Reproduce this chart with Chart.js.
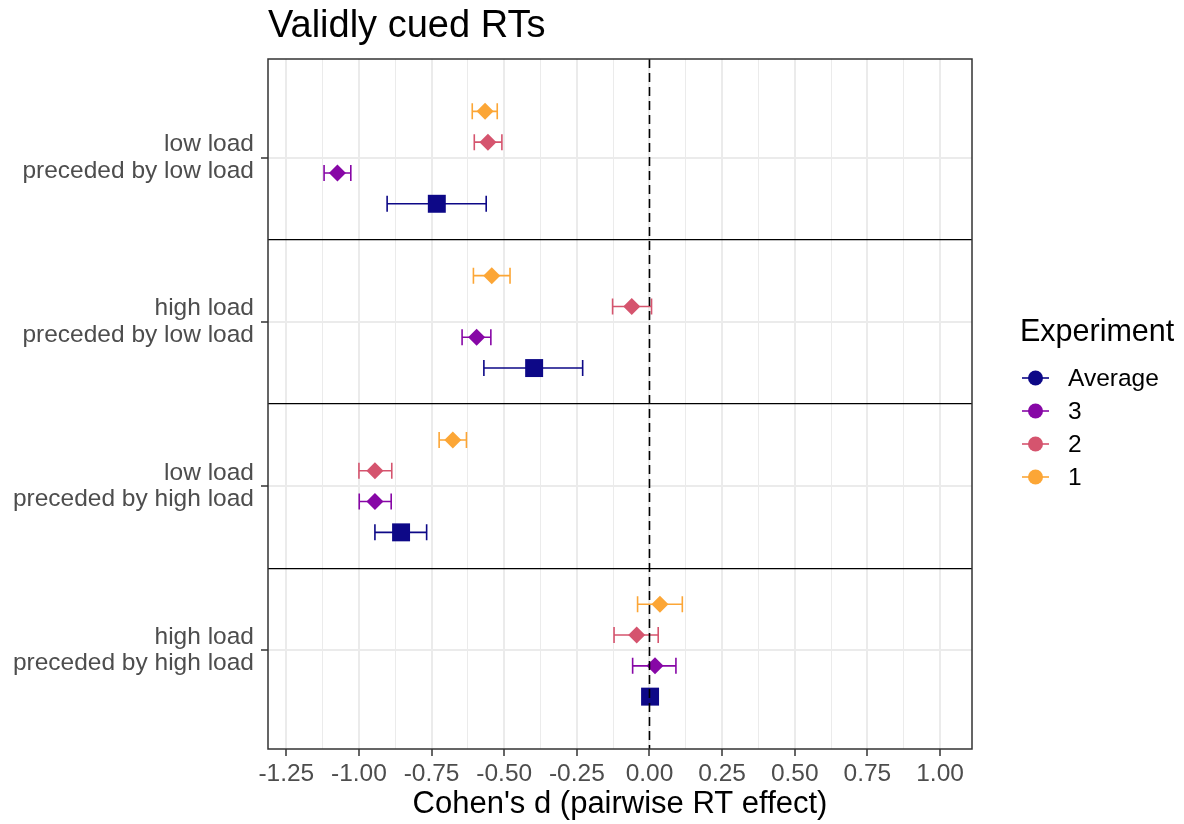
<!DOCTYPE html>
<html>
<head>
<meta charset="utf-8">
<script src="https://cdn.jsdelivr.net/npm/chart.js@4.4.1/dist/chart.umd.min.js"></script>
<style>
  body { margin: 0; background: #fff; }
  canvas { display: block; }
</style>
</head>
<body>
<canvas id="chart" width="1184" height="824"></canvas>
<script>
// categories (top to bottom) and tick labels
const categories = [
  ['low load', 'preceded by low load'],
  ['high load', 'preceded by low load'],
  ['low load', 'preceded by high load'],
  ['high load', 'preceded by high load']
];
const xTickValues = [-1.25, -1.0, -0.75, -0.5, -0.25, 0, 0.25, 0.5, 0.75, 1.0];
const xTickLabels = ['-1.25', '-1.00', '-0.75', '-0.50', '-0.25', '0.00', '0.25', '0.50', '0.75', '1.00'];

// Cohen's d with CI, per experiment, in category order
const avgD  = [-0.732, -0.397, -0.855, 0.002];
const avgLo = [-0.903, -0.570, -0.945, 0.002];
const avgHi = [-0.562, -0.230, -0.767, 0.002];

const exp3D  = [-1.074, -0.595, -0.945, 0.019];
const exp3Lo = [-1.120, -0.645, -0.999, -0.058];
const exp3Hi = [-1.028, -0.546, -0.889, 0.091];

const exp2D  = [-0.556, -0.061, -0.945, -0.044];
const exp2Lo = [-0.603, -0.127, -1.000, -0.122];
const exp2Hi = [-0.508, 0.007, -0.887, 0.030];

const exp1D  = [-0.566, -0.543, -0.677, 0.036];
const exp1Lo = [-0.610, -0.606, -0.724, -0.041];
const exp1Hi = [-0.524, -0.480, -0.630, 0.113];

const FONT = '"Liberation Sans", Arial, sans-serif';

// dodge offsets within a category (Average bottom, 1 top)
const dodge = [0.28125, 0.09375, -0.09375, -0.28125];

function makeSet(label, d, lo, hi, color, shape, radius, k) {
  return {
    label: label,
    data: d.map((v, i) => ({ x: v, y: i + 1 + dodge[k] })),
    errLo: lo,
    errHi: hi,
    backgroundColor: color,
    borderColor: color,
    pointStyle: shape,
    pointRadius: radius,
    pointHoverRadius: radius,
    pointBorderWidth: 0,
    showLine: false
  };
}

const datasets = [
  makeSet('Average', avgD, avgLo, avgHi, '#0D0887', 'rect', 12.7, 0),
  makeSet('3', exp3D, exp3Lo, exp3Hi, '#8707A6', 'rectRot', 8.5, 1),
  makeSet('2', exp2D, exp2Lo, exp2Hi, '#D5546E', 'rectRot', 8.5, 2),
  makeSet('1', exp1D, exp1Lo, exp1Hi, '#FCA636', 'rectRot', 8.5, 3)
];

const xMinor = xTickValues.slice(1).map((v, i) => (v + xTickValues[i]) / 2);
const yTickPos = [1, 1.5, 2, 2.5, 3, 3.5, 4];

const errorBars = {
  id: 'errorBars',
  beforeDatasetsDraw(chart) {
    const ctx = chart.ctx;
    const xs = chart.scales.x;
    chart.data.datasets.forEach((ds, di) => {
      const meta = chart.getDatasetMeta(di);
      ctx.save();
      ctx.strokeStyle = ds.borderColor;
      ctx.lineWidth = 1.6;
      meta.data.forEach((pt, i) => {
        const x1 = xs.getPixelForValue(ds.errLo[i]);
        const x2 = xs.getPixelForValue(ds.errHi[i]);
        const y = pt.y;
        ctx.beginPath();
        ctx.moveTo(x1, y); ctx.lineTo(x2, y);
        ctx.moveTo(x1, y - 8); ctx.lineTo(x1, y + 8);
        ctx.moveTo(x2, y - 8); ctx.lineTo(x2, y + 8);
        ctx.stroke();
      });
      ctx.restore();
    });
  },
  afterDatasetsDraw(chart) {
    const ctx = chart.ctx;
    const a = chart.chartArea;
    const x0 = chart.scales.x.getPixelForValue(0);
    ctx.save();
    ctx.strokeStyle = '#000';
    ctx.lineWidth = 1.6;
    ctx.setLineDash([9, 5]);
    ctx.beginPath();
    ctx.moveTo(x0, a.top); ctx.lineTo(x0, a.bottom);
    ctx.stroke();
    ctx.setLineDash([]);
    ctx.strokeStyle = '#333333';
    ctx.lineWidth = 1.5;
    ctx.strokeRect(a.left, a.top, a.right - a.left, a.bottom - a.top);
    ctx.restore();
  },
  afterDraw(chart) {
    const ctx = chart.ctx;
    const a = chart.chartArea;
    ctx.save();
    // title
    ctx.fillStyle = '#000';
    ctx.font = '38px ' + FONT;
    ctx.textBaseline = 'middle';
    ctx.textAlign = 'left';
    ctx.fillText('Validly cued RTs', a.left, 27);
    // legend
    ctx.font = '30.5px ' + FONT;
    ctx.fillText('Experiment', 1020, 333);
    ctx.font = '24.5px ' + FONT;
    chart.data.datasets.forEach((ds, i) => {
      const y = 378 + i * 33;
      ctx.strokeStyle = ds.borderColor;
      ctx.lineWidth = 1.6;
      ctx.beginPath();
      ctx.moveTo(1022, y); ctx.lineTo(1049, y);
      ctx.stroke();
      ctx.fillStyle = ds.backgroundColor;
      ctx.beginPath();
      ctx.arc(1035.5, y, 7.5, 0, Math.PI * 2);
      ctx.fill();
      ctx.fillStyle = '#000';
      ctx.fillText(ds.label, 1068, y + 1);
    });
    ctx.restore();
  }
};

new Chart(document.getElementById('chart').getContext('2d'), {
  type: 'scatter',
  data: { datasets: datasets },
  plugins: [errorBars],
  options: {
    responsive: false,
    animation: false,
    layout: { padding: { top: 59, right: 212, left: 0, bottom: 0 } },
    plugins: {
      legend: { display: false },
      title: { display: false },
      tooltip: { enabled: false }
    },
    scales: {
      x: {
        type: 'linear',
        min: -1.313,
        max: 1.11,
        afterBuildTicks: (axis) => {
          axis.ticks = xTickValues.concat(xMinor).sort((p, q) => p - q).map(v => ({ value: v }));
        },
        afterFit: (axis) => { axis.height = 75; },
        border: { display: false },
        grid: {
          color: '#EBEBEB',
          lineWidth: (c) => xTickValues.includes(c.tick.value) ? 2 : 1,
          tickLength: 7,
          tickWidth: 1.5,
          tickColor: (c) => xTickValues.includes(c.tick.value) ? '#333333' : 'rgba(0,0,0,0)'
        },
        ticks: {
          autoSkip: false,
          maxRotation: 0,
          padding: 4,
          color: '#4D4D4D',
          font: { family: FONT, size: 24.5 },
          callback: (v) => {
            const k = xTickValues.indexOf(v);
            return k >= 0 ? xTickLabels[k] : '';
          }
        },
        title: {
          display: true,
          text: "Cohen's d (pairwise RT effect)",
          color: '#000',
          font: { family: FONT, size: 31 },
          padding: { top: 0, bottom: 1 }
        }
      },
      y: {
        type: 'linear',
        reverse: true,
        min: 0.4,
        max: 4.6,
        afterBuildTicks: (axis) => {
          axis.ticks = yTickPos.map(v => ({ value: v }));
        },
        afterFit: (axis) => { axis.width = 268; },
        border: { display: false },
        grid: {
          color: (c) => Number.isInteger(c.tick.value) ? '#EBEBEB' : '#000000',
          lineWidth: (c) => Number.isInteger(c.tick.value) ? 2 : 1.3,
          tickLength: 7,
          tickWidth: 1.5,
          tickColor: (c) => Number.isInteger(c.tick.value) ? '#333333' : 'rgba(0,0,0,0)'
        },
        ticks: {
          autoSkip: false,
          padding: 7,
          color: '#4D4D4D',
          font: { family: FONT, size: 24.5, lineHeight: 1.08 },
          callback: (v) => Number.isInteger(v) ? categories[v - 1] : ''
        }
      }
    }
  }
});
</script>
</body>
</html>
